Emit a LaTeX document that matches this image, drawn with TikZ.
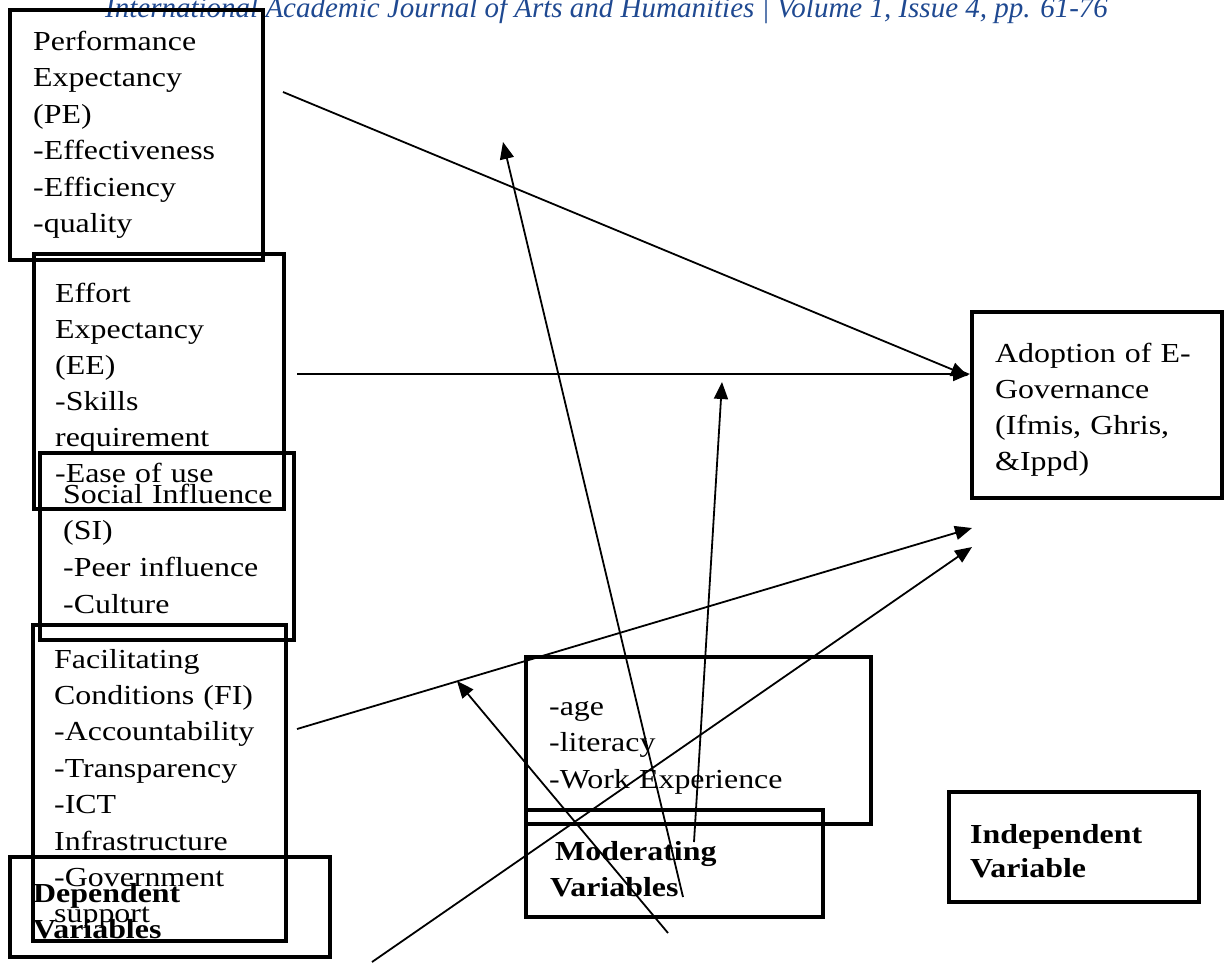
\documentclass[tikz,border=0pt]{standalone}
\usepackage{fontspec}
\setmainfont{Liberation Serif}[FakeStretch=1.16]
\newfontfamily\hdrfont{Liberation Serif}
\usetikzlibrary{arrows.meta}
\definecolor{hdrblue}{RGB}{31,73,145}
\begin{document}
\begin{tikzpicture}[x=1pt,y=-1pt,
  box/.style={draw, line width=4.5pt, inner sep=0pt, outer sep=0pt},
  txt/.style={anchor=base west, inner sep=0pt, text width=400pt, align=left,
              font=\fontsize{27.5}{36.5}\selectfont},
  boldtxt/.style={txt, font=\fontsize{27.5}{36}\selectfont\bfseries},
  conn/.style={line width=1.8pt, -{Triangle[length=17pt,width=14pt]}}]
\useasboundingbox (0,0) rectangle (1225,962);

% header
\node[anchor=base west, inner sep=0pt, text=hdrblue,
      font=\hdrfont\fontsize{29}{34}\selectfont\itshape] (hdr) at (105,17)
  {International Academic Journal of Arts and Humanities | Volume 1, Issue 4, pp. 61-76};

% boxes
\node[box, minimum width=253pt, minimum height=250pt] (pe) at (136.5,135) {};
\node[box, minimum width=250pt, minimum height=255pt] (ee) at (159,381.5) {};
\node[box, minimum width=254pt, minimum height=187pt] (si) at (167,546.5) {};
\node[box, minimum width=253pt, minimum height=316pt] (fc) at (159.5,783) {};
\node[box, minimum width=320pt, minimum height=100pt] (dv) at (170,907) {};
\node[box, minimum width=345pt, minimum height=167pt] (mod) at (698.5,740.5) {};
\node[box, minimum width=297pt, minimum height=107pt] (mv) at (674.5,863.5) {};
\node[box, minimum width=250pt, minimum height=186pt] (ad) at (1097,405) {};
\node[box, minimum width=250pt, minimum height=110pt] (iv) at (1074,847) {};

% texts
\node[txt] (pet) at (33,50) {Performance\\Expectancy\\(PE)\\-Effectiveness\\-Efficiency\\-quality};
\node[txt, font=\fontsize{27.5}{36}\selectfont] (eet) at (55,302) {Effort\\Expectancy\\(EE)\\-Skills\\requirement\\-Ease of use};
\node[txt, font=\fontsize{27.5}{36.7}\selectfont] (sit) at (63,503) {Social Influence\\(SI)\\-Peer influence\\-Culture};
\node[txt, font=\fontsize{27.5}{36.4}\selectfont] (fct) at (54,668) {Facilitating\\Conditions (FI)\\-Accountability\\-Transparency\\-ICT\\Infrastructure\\-Government\\support};
\node[boldtxt] (dvt) at (33,902) {Dependent\\Variables};
\node[txt] (modt) at (549,715) {-age\\-literacy\\-Work Experience};
\node[boldtxt] (mvt) at (550,860) {\hspace*{5pt}Moderating\\Variables};
\node[txt, font=\fontsize{27.5}{36}\selectfont] (adt) at (995,362) {Adoption of E-\\Governance\\(Ifmis, Ghris,\\\&Ippd)};
\node[boldtxt, font=\fontsize{27.5}{34}\selectfont\bfseries] (ivt) at (970,843) {Independent\\Variable};

% connector end points
\coordinate (a1s) at (283,92);
\coordinate (a1e) at (968,376);
\coordinate (a2s) at (297,374);
\coordinate (a2e) at (970,374);
\coordinate (a3s) at (297,729);
\coordinate (a3e) at (972,528);
\coordinate (a4s) at (372,962);
\coordinate (a4e) at (972,547);
\coordinate (a5s) at (683,897);
\coordinate (a5e) at (503,142);
\coordinate (a6s) at (694,842);
\coordinate (a6e) at (722,382);
\coordinate (a7s) at (668,933);
\coordinate (a7e) at (457,681);

\draw[conn] (a1s) -- (a1e);
\draw[conn] (a2s) -- (a2e);
\draw[conn] (a3s) -- (a3e);
\draw[conn] (a4s) -- (a4e);
\draw[conn] (a5s) -- (a5e);
\draw[conn] (a6s) -- (a6e);
\draw[conn] (a7s) -- (a7e);
\end{tikzpicture}
\end{document}
